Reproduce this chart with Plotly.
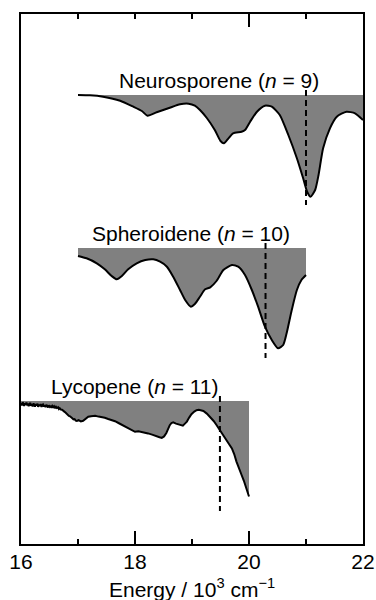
import plotly.graph_objects as go

# Energy axis in 10^3 cm^-1; signals are relative to each spectrum's own baseline (arb. units)
names = ["Neurosporene", "Spheroidene", "Lycopene"]
chain_n = [9, 10, 11]
baselines = [449, 296, 143]          # vertical offset of each stacked spectrum
marker_energy = [21.0, 20.29, 19.49]  # dashed reference lines
marker_extent = [5, -110]             # dashed line span relative to baseline
label_energy = [19.47, 18.98, 18.0]
label_lift = 15

neuro_E = [17.00, 17.21, 17.44, 17.74, 17.97, 18.12, 18.22, 18.38, 18.61, 18.79,
           18.94, 19.05, 19.14, 19.26, 19.40, 19.50, 19.56, 19.64, 19.72, 19.87,
           19.93, 20.02, 20.14, 20.28, 20.40, 20.54, 20.69, 20.84, 20.95, 21.02,
           21.08, 21.16, 21.22, 21.30, 21.42, 21.54, 21.71, 21.86, 22.00]
neuro_S = [0, -0.3, -1.7, -5.7, -11.7, -16, -20.7, -17.3, -12.7, -9.3,
           -8.7, -10.7, -15, -23, -35, -46, -48.3, -43.3, -38.3, -36.7,
           -35, -26.7, -16.7, -10.7, -11.7, -20, -40, -63.3, -83.3, -96.7,
           -101.7, -95, -80, -53.3, -33.3, -21.7, -16.7, -18.3, -25]

spher_E = [17.00, 17.15, 17.33, 17.47, 17.59, 17.68, 17.77, 17.88, 18.03, 18.18,
           18.32, 18.44, 18.56, 18.67, 18.79, 18.88, 18.98, 19.05, 19.14, 19.23,
           19.32, 19.43, 19.55, 19.70, 19.81, 19.93, 20.05, 20.16, 20.28, 20.40,
           20.51, 20.60, 20.66, 20.75, 20.84, 20.92, 21.00]
spher_S = [-8, -10.3, -15.3, -21.3, -28, -31.3, -28, -21.3, -15.3, -12,
           -11.3, -13.7, -18.7, -28.7, -42, -52, -58.7, -56, -48.7, -41.3,
           -39.3, -33, -22, -17, -18.7, -27, -42, -58.7, -78.7, -92,
           -100.3, -97, -85.3, -62, -42, -32, -27]

lyco_E = [16.00, 16.015, 16.03, 16.04, 16.055, 16.07, 16.08, 16.095, 16.11, 16.12,
          16.135, 16.15, 16.165, 16.175, 16.19, 16.205, 16.22, 16.23, 16.245, 16.26,
          16.275, 16.29, 16.30, 16.315, 16.33, 16.345, 16.36, 16.37, 16.385, 16.40,
          16.415, 16.43, 16.445, 16.46, 16.475, 16.49, 16.505, 16.52, 16.535, 16.55,
          16.565, 16.58, 16.60, 16.615, 16.63, 16.65, 16.665, 16.68, 16.70, 16.72,
          16.74, 16.76, 16.78, 16.80, 16.82, 16.84, 16.86, 16.88, 16.90, 16.92,
          16.94, 16.96, 16.98, 17.01, 17.05,
          17.09, 17.13, 17.18, 17.23, 17.30, 17.36, 17.42, 17.47, 17.53, 17.59,
          17.65, 17.71, 17.77, 17.82, 17.88, 17.94, 18.00, 18.06, 18.12, 18.18,
          18.23, 18.30, 18.38, 18.43, 18.47, 18.51, 18.55, 18.58, 18.61, 18.64,
          18.67, 18.72, 18.76, 18.80, 18.84, 18.88, 18.91, 18.95, 18.99, 19.04,
          19.08, 19.12, 19.16, 19.20, 19.26, 19.32, 19.38, 19.43, 19.48, 19.52,
          19.57, 19.61, 19.66, 19.70, 19.74, 19.78, 19.83, 19.87, 19.91, 19.95,
          19.99, 20.00]
lyco_S = [-2.0, -4.5, -1.2, -3.0, -5.0, -2.2, -3.8, -1.5, -4.6, -2.6,
          -5.2, -3.0, -1.9, -4.8, -3.3, -5.4, -2.4, -4.1, -5.6, -3.0,
          -4.4, -2.7, -5.8, -3.6, -4.9, -3.1, -6.0, -4.2, -3.4, -5.5,
          -4.0, -6.2, -3.8, -5.1, -6.4, -4.3, -5.7, -4.6, -6.8, -5.0,
          -6.1, -5.2, -7.3, -5.8, -7.0, -6.3, -8.1, -7.2, -8.6, -8.8,
          -10.1, -10.6, -11.5, -12.9, -13.4, -14.9, -15.3, -16.9, -17.3, -18.4,
          -18.1, -19.6, -19.9, -19.2, -20.4,
          -19.8, -17.6, -15.8, -15.2, -14.8, -15.6, -16.0, -16.8, -18.0, -18.8,
          -20.2, -22.0, -23.8, -25.6, -27.4, -29.2, -30.8, -30.2, -30.8, -31.6,
          -32.4, -33.6, -35.6, -36.2, -36.8, -35.4, -32.0, -27.6, -24.2, -22.0,
          -21.4, -22.6, -23.4, -23.8, -24.6, -22.4, -20.6, -16.6, -13.2, -10.6,
          -9.2, -8.8, -9.2, -10.0, -12.6, -15.8, -20.0, -24.0, -28.6, -32.4,
          -37.0, -40.8, -44.0, -47.4, -53.0, -60.6, -67.2, -74.0, -79.8, -87.6,
          -94.0, -95.5]

spectra = [(neuro_E, neuro_S, "spline"), (spher_E, spher_S, "spline"), (lyco_E, lyco_S, "linear")]

FONT = "Liberation Sans, Arial, Helvetica, sans-serif"
fig = go.Figure()

for (E, S, shape), base in zip(spectra, baselines):
    # invisible baseline the filled area closes against
    fig.add_trace(go.Scatter(x=[E[0], E[-1]], y=[base, base], mode="lines",
                             line=dict(width=0, color="rgba(0,0,0,0)"),
                             showlegend=False, hoverinfo="skip"))
    fig.add_trace(go.Scatter(x=E, y=[base + s for s in S], mode="lines",
                             line=dict(color="black", width=2, shape=shape, smoothing=0.6),
                             fill="tonexty", fillcolor="#808080",
                             showlegend=False, hoverinfo="skip"))

for k, (e, base) in enumerate(zip(marker_energy, baselines)):
    fig.add_trace(go.Scatter(x=[e, e], y=[base + marker_extent[0], base + marker_extent[1]],
                             mode="lines", line=dict(color="black", width=2, dash="6px,4px"),
                             xaxis="x2" if k == 0 else "x",
                             showlegend=False, hoverinfo="skip"))

for name, n, e, base in zip(names, chain_n, label_energy, baselines):
    fig.add_annotation(x=e, y=base + label_lift, text=f"{name} (<i>n</i> = {n})",
                       showarrow=False, xanchor="center", yanchor="middle",
                       font=dict(family=FONT, size=21, color="black"))

# energy axis title, set just under the tick labels
fig.add_annotation(xref="paper", yref="paper", x=0.5, y=0, yshift=-44,
                   xanchor="center", yanchor="middle", showarrow=False,
                   text="Energy / 10<sup>3</sup> cm<sup>−1</sup>",
                   font=dict(family=FONT, size=21, color="black"))

fig.update_layout(
    width=376, height=600,
    margin=dict(l=21, r=13, t=14, b=56),
    paper_bgcolor="white", plot_bgcolor="white",
    font=dict(family=FONT, size=21, color="black"),
    xaxis=dict(range=[16, 22], tickvals=[16, 18, 20, 22], ticks="inside", ticklen=13,
               tickwidth=1.5, tickcolor="black", automargin=False, ticklabelstandoff=-2,
               minor=dict(tickvals=[17, 19, 21], ticks="inside", ticklen=5,
                          tickwidth=1.5, tickcolor="black"),
               showline=True, linewidth=1.5, linecolor="black", showgrid=False,
               zeroline=False, tickfont=dict(size=21)),
    xaxis2=dict(range=[16, 22], overlaying="x", side="top", matches="x",
                tickvals=[20], ticks="inside", ticklen=13, tickwidth=1.5, tickcolor="black",
                minor=dict(tickvals=[17, 18, 19, 21], ticks="inside", ticklen=5,
                           tickwidth=1.5, tickcolor="black"),
                showticklabels=False, showline=True, linewidth=1.5, linecolor="black",
                showgrid=False, zeroline=False, automargin=False),
    yaxis=dict(range=[0, 530], showticklabels=False, ticks="", showline=True,
               mirror=True, linewidth=1.5, linecolor="black", showgrid=False,
               zeroline=False, automargin=False),
)

fig.write_html("out.html")
